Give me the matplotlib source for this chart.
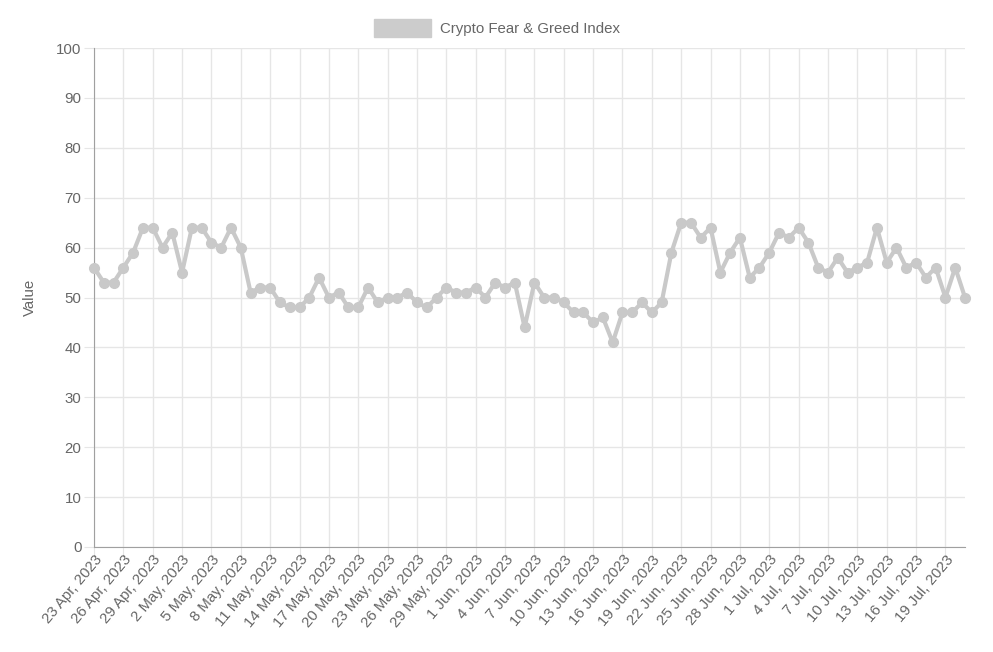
import datetime as dt

import matplotlib

matplotlib.use("Agg")
import matplotlib.pyplot as plt
from matplotlib.patches import Patch

plt.rcParams["font.family"] = ["Liberation Sans", "DejaVu Sans"]

start = dt.date(2023, 4, 23)
values = [
    56, 53, 53, 56, 59, 64, 64, 60,                      # Apr 23-30
    63, 55, 64, 64, 61, 60, 64, 60, 51, 52, 52, 49, 48, 48, 50, 54,
    50, 51, 48, 48, 52, 49, 50, 50, 51, 49, 48, 50, 52, 51, 51,  # May
    52, 50, 53, 52, 53, 44, 53, 50, 50, 49, 47, 47, 45, 46, 41, 47,
    47, 49, 47, 49, 59, 65, 65, 62, 64, 55, 59, 62, 54, 56,      # Jun
    59, 63, 62, 64, 61, 56, 55, 58, 55, 56, 57, 64, 57, 60, 56, 57,
    54, 56, 50, 56, 50,                                          # Jul 1-21
]
dates = [start + dt.timedelta(days=i) for i in range(len(values))]
labels = [f"{d.day} {d.strftime('%b')}, {d.year}" for d in dates]
series_name = "Crypto Fear & Greed Index"

text_c = "#666666"
grid_c = "#e6e6e6"
line_c = "#c9c9c9"

fig = plt.figure(figsize=(9.93, 6.52), dpi=100)
ax = fig.add_axes([94 / 993, 1 - 547 / 652, (965 - 94) / 993, (547 - 48) / 652])

x = list(range(len(values)))
ax.plot(x, values, color=line_c, lw=3, marker="o", ms=7,
        markerfacecolor=line_c, markeredgecolor=line_c, zorder=3,
        clip_on=False)

ax.set_xlim(0, len(values) - 1)
ax.set_ylim(0, 100)
ax.set_yticks(range(0, 101, 10))
ticks = x[::3]
ax.set_xticks(ticks)
ax.set_xticklabels([labels[i] for i in ticks], rotation=50, ha="right",
                   rotation_mode="anchor", fontsize=10.8, color=text_c)
ax.tick_params(axis="y", labelsize=10.8, labelcolor=text_c, color=grid_c,
               length=7, pad=2)
ax.tick_params(axis="x", color=grid_c, length=7, pad=-3)
ax.grid(True, color=grid_c, lw=1)
ax.set_axisbelow(True)

for side in ("top", "right"):
    ax.spines[side].set_visible(False)
for side in ("left", "bottom"):
    ax.spines[side].set_color("#a0a0a0")

ax.set_ylabel("Value", color=text_c, fontsize=10.8, labelpad=14)

handle = Patch(facecolor="#cccccc", edgecolor="#cccccc")
fig.legend([handle], [series_name], loc="center", bbox_to_anchor=(0.5, 1 - 28 / 652),
           frameon=False, fontsize=10.8, labelcolor=text_c,
           handlelength=3.8, handleheight=1.4, handletextpad=0.6)

fig.savefig("out.png", dpi=100)
